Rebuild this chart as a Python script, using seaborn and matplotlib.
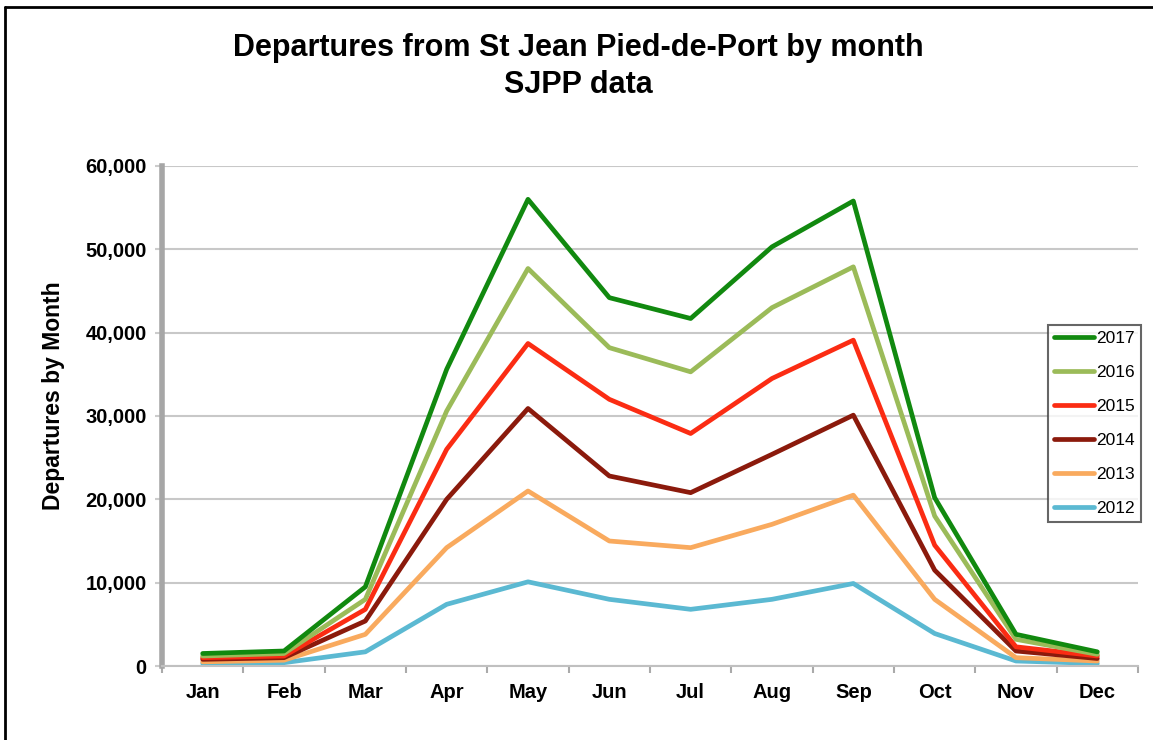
import pandas as pd
import matplotlib
matplotlib.use('Agg')
import matplotlib.pyplot as plt
from matplotlib.lines import Line2D
from matplotlib.ticker import FuncFormatter, FixedLocator
import seaborn as sns

# 月份和各年份数据
months = ['Jan', 'Feb', 'Mar', 'Apr', 'May', 'Jun', 'Jul', 'Aug', 'Sep', 'Oct', 'Nov', 'Dec']
years = ['2012', '2013', '2014', '2015', '2016', '2017']
v2012 = [300, 400, 1700, 7400, 10100, 8000, 6800, 8000, 9900, 3900, 600, 300]
v2013 = [500, 700, 3800, 14200, 21000, 15000, 14200, 17000, 20500, 8000, 1000, 600]
v2014 = [800, 1000, 5400, 20000, 30900, 22800, 20800, 25400, 30100, 11500, 1800, 900]
v2015 = [1000, 1200, 6800, 26000, 38700, 32000, 27900, 34500, 39100, 14500, 2300, 1200]
v2016 = [1200, 1500, 8000, 30600, 47700, 38200, 35300, 43000, 47900, 18000, 3200, 1400]
v2017 = [1500, 1800, 9500, 35600, 56000, 44200, 41700, 50300, 55800, 20200, 3800, 1700]
palette = {'2017': '#11890f', '2016': '#9bbb59', '2015': '#fb2c13',
           '2014': '#8b1a0c', '2013': '#f9aa5e', '2012': '#5bb9d2'}

rows = []
for y, vals in zip(years, [v2012, v2013, v2014, v2015, v2016, v2017]):
    for i, v in enumerate(vals):
        rows.append({'month': i, 'year': y, 'departures': v})
df = pd.DataFrame(rows)

sns.set_style('white')
plt.rcParams['font.family'] = ['Liberation Sans', 'DejaVu Sans']
plt.rcParams['text.color'] = 'black'
plt.rcParams['xtick.color'] = 'black'
plt.rcParams['ytick.color'] = 'black'
plt.rcParams['axes.labelcolor'] = 'black'

fig = plt.figure(figsize=(11.53, 7.4), dpi=100)
ax = fig.add_axes([162 / 1153, 74 / 740, (1138 - 162) / 1153, 500 / 740])

sns.lineplot(data=df, x='month', y='departures', hue='year', hue_order=years,
             palette=palette, linewidth=3.4, ax=ax, legend=False)

ax.set_xlim(-0.5, 11.5)
ax.set_ylim(0, 60000)
ax.set_xticks(range(12))
ax.set_xticklabels(months, fontsize=14.5, fontweight='bold')
ax.xaxis.set_minor_locator(FixedLocator([i - 0.5 for i in range(13)]))
ax.tick_params(axis='x', which='major', length=0, pad=12)
ax.tick_params(axis='x', which='minor', length=5, width=1.5, color='#aaaaaa', direction='out', bottom=True)
ax.set_yticks(range(0, 60001, 10000))
ax.yaxis.set_major_formatter(FuncFormatter(lambda v, p: f'{int(v):,}'))
ax.tick_params(axis='y', length=5, width=1.5, color='#cccccc', direction='out', left=True,
               labelsize=14.5, pad=6)
for lab in ax.get_yticklabels():
    lab.set_fontweight('bold')
ax.grid(axis='y', color='#c8c8c8', linewidth=1.5)
ax.set_axisbelow(True)
for s in ['top', 'right']:
    ax.spines[s].set_visible(False)
ax.spines['left'].set_color('#a6a6a6')
ax.spines['left'].set_linewidth(4)
ax.spines['bottom'].set_color('#c0c0c0')
ax.spines['bottom'].set_linewidth(1.5)
ax.set_xlabel('')
ax.set_ylabel('Departures by Month', fontsize=16.5, fontweight='bold')
ax.yaxis.set_label_coords(-0.099, 0.54)

handles = [Line2D([0], [0], color=palette[y], linewidth=3.4) for y in years[::-1]]
leg = ax.legend(handles, years[::-1], loc='upper left', bbox_to_anchor=(0.908, 0.682),
                fontsize=12.5, frameon=True, fancybox=False, handlelength=2.3,
                handletextpad=0.1, labelspacing=1.08, borderpad=0.35, borderaxespad=0)
leg.get_frame().set_edgecolor('#404040')
leg.get_frame().set_linewidth(1.5)

fig.text(0.502, 0.955, 'Departures from St Jean Pied-de-Port by month\nSJPP data',
         ha='center', va='top', fontsize=22, fontweight='bold', linespacing=1.3)

# 图外边框（上、左）
fig.add_artist(Line2D([5 / 1153, 5 / 1153], [0, 1 - 7 / 740], color='black', linewidth=2))
fig.add_artist(Line2D([5 / 1153, 1], [1 - 7 / 740, 1 - 7 / 740], color='black', linewidth=2))

fig.savefig('out.png', dpi=100)
